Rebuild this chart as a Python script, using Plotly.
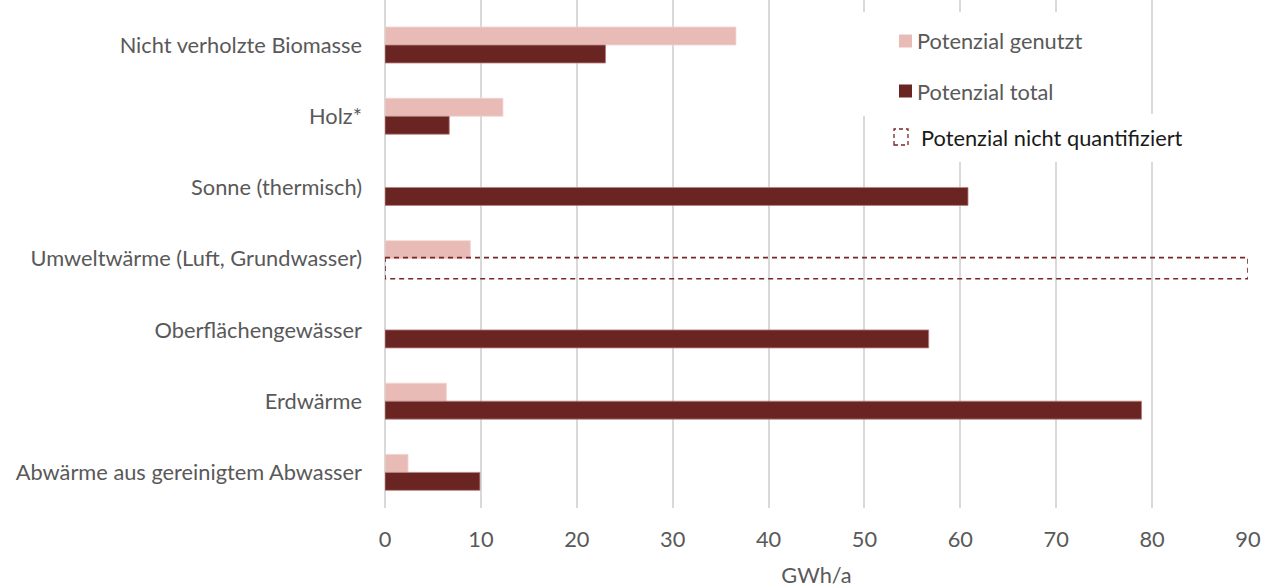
import plotly.graph_objects as go

# Energy sources (top to bottom) and their heat potentials in GWh/a
categories = [
    "Nicht verholzte Biomasse",
    "Holz*",
    "Sonne (thermisch)",
    "Umweltwärme (Luft, Grundwasser)",
    "Oberflächengewässer",
    "Erdwärme",
    "Abwärme aus gereinigtem Abwasser",
]
genutzt = [36.6, 12.3, None, 8.9, None, 6.4, 2.4]
total = [23.0, 6.7, 60.8, None, 56.7, 78.9, 9.9]
nicht_quantifiziert = [False, False, False, True, False, False, False]

x_ticks = [0, 10, 20, 30, 40, 50, 60, 70, 80, 90]
x_max = 90

FONT = "Lato"
FS = 21.8
GREY = "#595959"
C_GENUTZT = "#E8BBB6"
C_TOTAL = "#6A2522"
C_DASH = "#7A2624"

W, H = 1270, 588
ML, MR, MT, MB = 385, 22, 0, 80
PW, PH = W - ML - MR, H - MT - MB


def px(x):
    return (x - ML) / PW


def py(y):
    return 1 - (y - MT) / PH


fig = go.Figure()
fig.add_trace(go.Bar(
    y=categories, x=genutzt, orientation="h", name="Potenzial genutzt",
    marker=dict(color=C_GENUTZT, line=dict(color="#F2D4D0", width=0.8)),
    showlegend=False,
))
fig.add_trace(go.Bar(
    y=categories, x=total, orientation="h", name="Potenzial total",
    marker=dict(color=C_TOTAL, line=dict(color="#B88080", width=0.8)),
    showlegend=False,
))

# dashed outline where the total potential is not quantified
half_bar = (1 - 0.495) / 2
for i, flag in enumerate(nicht_quantifiziert):
    if flag:
        fig.add_shape(type="rect", xref="x", yref="y",
                      x0=0, x1=x_max, y0=i - 0.015, y1=i + half_bar + 0.03,
                      line=dict(color=C_DASH, width=1.6, dash="5px,4px"),
                      fillcolor="rgba(0,0,0,0)", layer="above")

# legend panel
fig.add_shape(type="rect", xref="paper", yref="paper",
              x0=px(862), x1=px(1150), y0=py(116), y1=py(12),
              fillcolor="white", line=dict(width=0), layer="above")
fig.add_shape(type="rect", xref="paper", yref="paper",
              x0=px(868), x1=px(1200), y0=py(162), y1=py(114),
              fillcolor="white", line=dict(width=0), layer="above")

legend_items = [
    ("Potenzial genutzt", C_GENUTZT, 41, GREY),
    ("Potenzial total", C_TOTAL, 91, GREY),
]
for text, col, yc, tcol in legend_items:
    fig.add_shape(type="rect", xref="paper", yref="paper",
                  x0=px(899), x1=px(912), y0=py(yc + 6.5), y1=py(yc - 6.5),
                  fillcolor=col, line=dict(width=0), layer="above")
    fig.add_annotation(x=px(915), y=py(yc), xref="paper", yref="paper",
                       text=text, showarrow=False, xanchor="left", yanchor="middle",
                       font=dict(family=FONT, size=FS, color=tcol))

fig.add_shape(type="rect", xref="paper", yref="paper",
              x0=px(894), x1=px(908), y0=py(145), y1=py(129),
              fillcolor="white", line=dict(color=C_DASH, width=1.3, dash="4px,3px"),
              layer="above")
fig.add_annotation(x=px(919), y=py(138), xref="paper", yref="paper",
                   text="Potenzial nicht quantifiziert", showarrow=False,
                   xanchor="left", yanchor="middle",
                   font=dict(family=FONT, size=FS, color="#1A1A1A"))

fig.update_layout(
    width=W, height=H,
    margin=dict(l=ML, r=MR, t=MT, b=MB),
    paper_bgcolor="white", plot_bgcolor="white",
    barmode="group", bargap=0.495, bargroupgap=0,
    font=dict(family=FONT, size=FS, color=GREY),
    showlegend=False,
)
fig.update_xaxes(
    range=[0, x_max], tickvals=x_ticks, ticktext=[str(v) for v in x_ticks],
    showgrid=True, gridcolor="#D9D9D9", gridwidth=1.6,
    zeroline=True, zerolinecolor="#D9D9D9", zerolinewidth=1.6,
    showline=False, ticks="", ticklabelstandoff=16,
    tickfont=dict(family=FONT, size=FS, color=GREY),
    title=dict(text="GWh/a", font=dict(family=FONT, size=FS, color=GREY), standoff=17),
)
fig.update_yaxes(
    type="category", categoryorder="array", categoryarray=categories,
    range=[6.5, -0.632], showgrid=False, zeroline=False, showline=False,
    ticks="", ticklabelstandoff=22,
    tickfont=dict(family=FONT, size=FS, color=GREY),
)

fig.write_html("out.html")
